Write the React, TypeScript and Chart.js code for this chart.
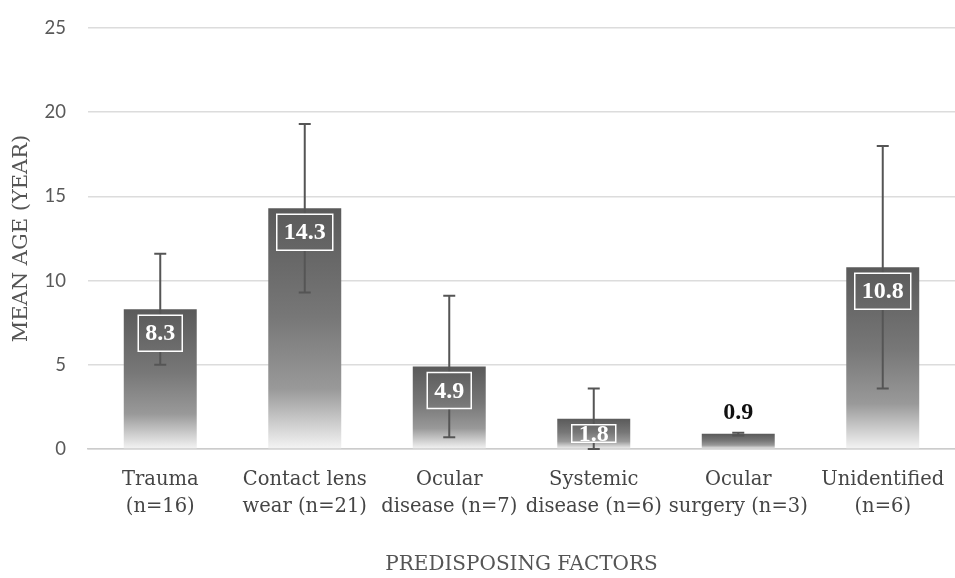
import React, { useEffect, useRef } from "react";
import { Chart, registerables } from "chart.js";

Chart.register(...registerables);

const categories: string[][] = [
  ["Trauma", "(n=16)"],
  ["Contact lens", "wear (n=21)"],
  ["Ocular", "disease (n=7)"],
  ["Systemic", "disease (n=6)"],
  ["Ocular", "surgery (n=3)"],
  ["Unidentified", "(n=6)"],
];
const meanAge: number[] = [8.3, 14.3, 4.9, 1.8, 0.9, 10.8];
const errorLow: number[] = [5.0, 9.3, 0.7, 0.0, 0.8, 3.6];
const errorHigh: number[] = [11.6, 19.3, 9.1, 3.6, 0.97, 18.0];
const yMin = 0;
const yMax = 25;
const yStep = 5;

const serif = '"DejaVu Serif", serif';

function barGradient(ctx: any) {
  const chart = ctx.chart;
  const y = chart.scales && chart.scales.y;
  if (!chart.chartArea || !y || ctx.type !== "data") return "#6a6a6a";
  const top = y.getPixelForValue(ctx.raw);
  const base = y.getPixelForValue(0);
  if (!isFinite(top) || !isFinite(base) || top === base) return "#6a6a6a";
  const g = chart.ctx.createLinearGradient(0, top, 0, base);
  g.addColorStop(0, "#5a5a5a");
  g.addColorStop(0.45, "#777777");
  g.addColorStop(0.75, "#999999");
  g.addColorStop(1, "#f4f4f4");
  return g;
}

const overlayPlugin = {
  id: "overlay",
  afterDatasetsDraw(chart: any) {
    const { ctx, scales } = chart;
    const y = scales.y;
    const meta = chart.getDatasetMeta(0);
    meta.data.forEach((bar: any, i: number) => {
      const x = bar.x;
      const yHi = y.getPixelForValue(errorHigh[i]);
      const yLo = y.getPixelForValue(errorLow[i]);
      ctx.save();
      ctx.strokeStyle = "#555555";
      ctx.lineWidth = 2;
      ctx.beginPath();
      ctx.moveTo(x, yHi);
      ctx.lineTo(x, yLo);
      ctx.moveTo(x - 6, yHi);
      ctx.lineTo(x + 6, yHi);
      ctx.moveTo(x - 6, yLo);
      ctx.lineTo(x + 6, yLo);
      ctx.stroke();
      ctx.restore();

      const text = meanAge[i].toFixed(1);
      const top = bar.y;
      const base = bar.base;
      ctx.save();
      ctx.font = 'bold 24px "Liberation Serif", serif';
      ctx.textAlign = "center";
      ctx.textBaseline = "middle";
      if (base - top < 20) {
        ctx.fillStyle = "#111111";
        ctx.fillText(text, x, top - 21);
      } else {
        const w = ctx.measureText(text).width + 14;
        const bt = top + 6;
        const bb = Math.min(bt + 36, base - 6);
        ctx.beginPath();
        ctx.rect(x - w / 2, bt, w, bb - bt);
        ctx.fillStyle = bar.options.backgroundColor;
        ctx.fill();
        ctx.strokeStyle = "#ffffff";
        ctx.lineWidth = 1.5;
        ctx.stroke();
        ctx.clip();
        ctx.fillStyle = "#ffffff";
        ctx.fillText(text, x, (bt + bb) / 2 + 1);
      }
      ctx.restore();
    });
  },
};

export default function App() {
  const ref = useRef<HTMLCanvasElement | null>(null);
  useEffect(() => {
    if (!ref.current) return;
    const chart = new Chart(ref.current, {
      type: "bar",
      data: {
        labels: categories,
        datasets: [
          {
            label: "Mean age",
            data: meanAge,
            backgroundColor: barGradient,
            borderWidth: 0,
            categoryPercentage: 1,
            barPercentage: 0.505,
          },
        ],
      },
      options: {
        responsive: false,
        animation: false,
        layout: { padding: { top: 28, right: 0, left: 0, bottom: 0 } },
        plugins: {
          legend: { display: false },
          tooltip: { enabled: false },
        },
        scales: {
          x: {
            grid: { display: false, drawTicks: false },
            border: { display: true, color: "#cccccc", width: 1.5 },
            ticks: {
              autoSkip: false,
              maxRotation: 0,
              minRotation: 0,
              padding: 17.5,
              color: "#454545",
              font: { family: serif, size: 19.5, lineHeight: 1.385 },
            },
            title: {
              display: true,
              text: "PREDISPOSING FACTORS",
              color: "#555555",
              font: { family: serif, size: 20, lineHeight: 1.2 },
              padding: { top: 0, bottom: 1 },
            },
            afterFit: (scale: any) => {
              scale.height = 129;
              scale.paddingLeft = 0;
              scale.paddingRight = 0;
            },
          },
          y: {
            min: yMin,
            max: yMax,
            grid: { color: "#dcdcdc", lineWidth: 1.5, drawTicks: false },
            border: { display: false },
            ticks: {
              stepSize: yStep,
              padding: 22,
              color: "#595959",
              font: { family: "Lato, sans-serif", size: 18.5 },
            },
            title: {
              display: true,
              text: "MEAN AGE (YEAR)",
              color: "#555555",
              font: { family: serif, size: 21, lineHeight: 1.2 },
              padding: { top: 9.4, bottom: 0 },
            },
            afterFit: (scale: any) => {
              scale.width = 88;
              scale.paddingTop = 0;
              scale.paddingBottom = 0;
            },
          },
        },
      },
      plugins: [overlayPlugin],
    });
    return () => chart.destroy();
  }, []);
  return (
    <div style={{ position: "absolute", left: 0, top: 0, width: 955, height: 578, background: "#ffffff" }}>
      <canvas ref={ref} width={955} height={578} style={{ display: "block" }} />
    </div>
  );
}
